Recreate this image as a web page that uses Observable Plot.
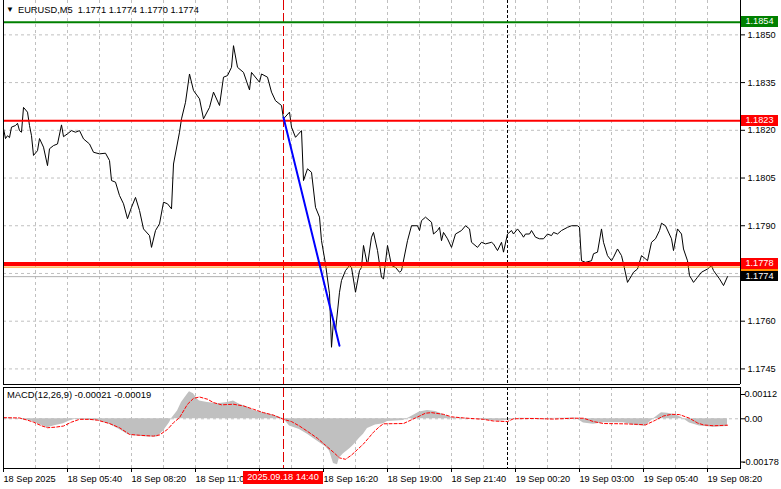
<!DOCTYPE html>
<html><head><meta charset="utf-8">
<script src="https://cdn.jsdelivr.net/npm/d3@7"></script>
<script src="https://cdn.jsdelivr.net/npm/@observablehq/plot@0.6"></script>
<style>
body{margin:0;background:#fff;}
#chart{position:relative;width:781px;height:489px;overflow:hidden;font-family:"Liberation Sans",Arial,sans-serif;font-size:9.2px;color:#000;background:#fff;}
#chart svg{position:absolute;left:0;}
.lbl{position:absolute;white-space:nowrap;line-height:11px;}
.box{position:absolute;color:#fff;text-align:center;white-space:nowrap;}
</style></head><body><div id="chart"></div><script>
// ---- data (bar = 5-minute bar index from 18 Sep 03:00) ----
const symbolTitle = "EURUSD,M5";
const ohlcText = "1.1771 1.1774 1.1770 1.1774";
const macdTitle = "MACD(12,26,9) -0.00021 -0.00019";

const closeSeries = [
[0,1.18205],[1,1.18174],[2,1.18183],[3,1.18177],[4,1.18210],[6,1.18215],[7,1.18222],[8,1.18199],[9,1.18194],[10,1.18272],
[12,1.18257],[13,1.18215],[14,1.18183],[15,1.18121],[17,1.18136],[18,1.18174],[20,1.18147],[22,1.18089],[23,1.18142],[25,1.18152],
[27,1.18157],[29,1.18217],[30,1.18180],[32,1.18189],[34,1.18199],[36,1.18194],[38,1.18199],[40,1.18173],[43,1.18157],[45,1.18131],
[48,1.18126],[51,1.18128],[53,1.18105],[54,1.18042],[56,1.18037],[58,1.17995],[60,1.17969],[62,1.17922],[64,1.17958],[66,1.17989],
[68,1.17948],[70,1.17890],[73,1.17869],[74,1.17832],[76,1.17885],[78,1.17906],[80,1.17974],[82,1.17969],[84,1.17953],[85,1.18094],
[88,1.18194],[89,1.18236],[91,1.18288],[93,1.18377],[95,1.18325],[98,1.18299],[100,1.18236],[103,1.18272],[105,1.18320],[108,1.18278],
[110,1.18367],[112,1.18372],[114,1.18398],[115,1.18466],[117,1.18398],[120,1.18382],[123,1.18327],[124,1.18382],[128,1.18351],[129,1.18377],
[132,1.18367],[134,1.18320],[136,1.18293],[139,1.18278],[140,1.18236],[143,1.18257],[144,1.18210],[146,1.18178],[149,1.18199],[150,1.18042],
[152,1.18079],[154,1.18068],[156,1.17958],[158,1.17927],[159,1.17853],[161,1.17780],[163,1.17686],[164,1.17518],[165,1.17602],[166,1.17570],
[168,1.17691],[169,1.17728],[171,1.17759],[173,1.17775],[174,1.17769],[176,1.17691],[178,1.17759],[179,1.17769],[180,1.17838],[182,1.17775],
[184,1.17864],[185,1.17879],[187,1.17822],[189,1.17738],[190,1.17733],[192,1.17838],[194,1.17775],[196,1.17769],[198,1.17754],[199,1.17759],
[202,1.17853],[204,1.17900],[207,1.17900],[208,1.17885],[209,1.17916],[211,1.17927],[214,1.17911],[215,1.17874],[217,1.17885],[218,1.17895],
[219,1.17853],[220,1.17879],[222,1.17859],[224,1.17832],[226,1.17874],[229,1.17885],[231,1.17900],[233,1.17890],[234,1.17848],[237,1.17832],
[239,1.17848],[241,1.17843],[244,1.17848],[245,1.17843],[247,1.17822],[249,1.17848],[250,1.17817],[252,1.17874],[254,1.17885],[255,1.17874],
[257,1.17890],[259,1.17874],[260,1.17864],[261,1.17874],[263,1.17874],[264,1.17885],[266,1.17864],[268,1.17859],[270,1.17859],[272,1.17874],
[274,1.17869],[275,1.17879],[277,1.17874],[279,1.17885],[282,1.17895],[284,1.17900],[287,1.17900],[288,1.17895],[289,1.17790],[291,1.17785],
[294,1.17790],[295,1.17812],[297,1.17817],[299,1.17890],[300,1.17848],[302,1.17806],[304,1.17790],[305,1.17801],[307,1.17827],[309,1.17806],
[310,1.17780],[312,1.17722],[314,1.17743],[315,1.17754],[317,1.17764],[319,1.17806],[321,1.17796],[322,1.17790],[324,1.17848],[326,1.17859],
[328,1.17885],[329,1.17908],[331,1.17900],[334,1.17859],[335,1.17822],[337,1.17890],[339,1.17874],[340,1.17827],[342,1.17790],[343,1.17743],
[344,1.17733],[345,1.17722],[347,1.17738],[349,1.17754],[352,1.17764],[354,1.17775],[355,1.17759],[358,1.17733],[360,1.17712],[362,1.17740]
];

const trendLine = [[140,1.18240],[168,1.17523]];

const levelPrices = [1.1777, 1.1778, 1.1823, 1.1854];
const levelColors = ["#ff8c00", "#ff0000", "#ff0000", "#008000"];
const levelWidths = [1, 4, 2, 2];
const bidPrice = 1.1774;

const priceTicks = [1.1745, 1.1760, 1.1775, 1.1790, 1.1805, 1.1820, 1.1835, 1.1850];

const macdHist = [
[0,0.00003],[6,0.00001],[10,-0.00003],[14,-0.00008],[17,-0.00018],[20,-0.00026],[22,-0.00032],[26,-0.00024],[30,-0.00018],[33,-0.00008],
[36,-0.00002],[42,-0.00004],[48,-0.00008],[53,-0.00020],[58,-0.00038],[62,-0.00055],[65,-0.00061],[72,-0.00065],[77,-0.00065],[80,-0.00044],
[83,-0.00014],[84,0],[87,0.00028],[89,0.00058],[92,0.00088],[93,0.00097],[95,0.00090],[97,0.00070],[98,0.00064],[102,0.00058],
[107,0.00054],[112,0.00058],[115,0.00064],[118,0.00052],[122,0.00042],[125,0.00030],[130,0.00022],[135,0.00013],[139,0.00004],[140,0],
[143,-0.00026],[148,-0.00038],[152,-0.00055],[157,-0.00080],[161,-0.00100],[163,-0.00115],[165,-0.00160],[167,-0.00165],[168,-0.00140],[170,-0.00125],
[173,-0.00108],[175,-0.00095],[178,-0.00070],[180,-0.00055],[182,-0.00035],[186,-0.00022],[190,-0.00018],[192,-0.00010],[200,-0.00006],[203,0.00005],
[208,0.00024],[212,0.00030],[216,0.00026],[220,0.00015],[224,0.00004],[230,0.00002],[236,0],[242,-0.00006],[248,-0.00009],[252,-0.00005],
[258,0.00002],[270,0.00001],[280,0.00002],[286,0.00003],[290,-0.00015],[295,-0.00020],[300,-0.00014],[310,-0.00014],[316,-0.00024],[321,-0.00026],
[325,0],[329,0.00022],[332,0.00020],[336,0.00014],[339,0.00005],[343,-0.00015],[348,-0.00026],[355,-0.00030],[362,-0.00028]
];

const macdSignal = [
[0,0.00004],[8,0.00003],[12,-0.00005],[15,-0.00012],[19,-0.00025],[22,-0.00032],[26,-0.00030],[30,-0.00026],[34,-0.00012],[38,-0.00002],
[43,-0.00002],[47,-0.00005],[53,-0.00017],[58,-0.00032],[63,-0.00056],[68,-0.00059],[75,-0.00062],[78,-0.00058],[82,-0.00038],[85,-0.00014],
[88,0.00004],[92,0.00052],[95,0.00073],[98,0.00078],[102,0.00070],[105,0.00058],[109,0.00050],[115,0.00052],[120,0.00046],[125,0.00034],
[130,0.00022],[135,0.00013],[140,-0.00002],[144,-0.00010],[148,-0.00026],[152,-0.00045],[157,-0.00070],[161,-0.00095],[165,-0.00120],[168,-0.00140],
[171,-0.00145],[174,-0.00130],[177,-0.00110],[180,-0.00090],[183,-0.00065],[185,-0.00048],[188,-0.00028],[190,-0.00018],[200,-0.00017],[206,0.00003],
[211,0.00020],[214,0.00022],[220,0.00016],[224,0.00007],[230,0.00003],[240,-0.00002],[245,-0.00008],[252,-0.00010],[255,0],[265,0.00001],
[275,-0.00001],[285,0.00002],[290,0.00002],[295,-0.00010],[300,-0.00017],[310,-0.00018],[317,-0.00020],[321,-0.00022],[326,-0.00005],[330,0.00010],
[334,0.00016],[338,0.00015],[343,0.00002],[347,-0.00015],[350,-0.00022],[355,-0.00025],[362,-0.00023]
];

const macdTickValues = [0.00112, 0, -0.00178];
const macdTickLabels = ["0.00112", "0.00", "-0.00178"];

const timeTickBars = [0,32,64,96,128,160,192,224,256,288,320,352];
const timeTickLabels = ["18 Sep 2025","18 Sep 05:40","18 Sep 08:20","18 Sep 11:00","18 Sep 13:40","18 Sep 16:20","18 Sep 19:00","18 Sep 21:40","19 Sep 00:20","19 Sep 03:00","19 Sep 05:40","19 Sep 08:20"];
const gridBars = [16,32,48,64,80,96,112,128,144,160,176,192,208,224,240,256,272,288,304,320,336,352];
const markerBar = 140;
const markerLabel = "2025.09.18 14:40";
const daySeparatorBar = 252;

// ---- derived tables ----
const closes = closeSeries.map(([bar, close]) => ({bar, close}));
const trend = trendLine.map(([bar, price]) => ({bar, price}));
const levels = levelPrices.map((price, i) => ({price, color: levelColors[i], width: levelWidths[i]}));
const hist = macdHist.map(([bar, value]) => ({bar, value}));
const signal = macdSignal.map(([bar, value]) => ({bar, value}));
const timeLabelOf = new Map(timeTickBars.map((b, i) => [b, timeTickLabels[i]]));
const macdLabelOf = new Map(macdTickValues.map((v, i) => [v, macdTickLabels[i]]));

const xDomain = [0, 368.5];
const priceDomain = [1.17401, 1.18608];
const macdDomain = [-0.00178, 0.00112];
const font = "Liberation Sans, Arial, sans-serif";
const gridColor = "#c0c0c0";

const root = document.getElementById("chart");

const mainPlot = Plot.plot({
  width: 781, height: 386,
  marginTop: 0, marginBottom: 2, marginLeft: 3, marginRight: 41,
  x: {domain: xDomain, axis: null},
  y: {domain: priceDomain},
  color: {type: "identity"},
  style: {fontFamily: font, fontSize: "9.2px", background: "none", overflow: "visible", color: "black"},
  marks: [
    Plot.ruleY(priceTicks, {stroke: gridColor, strokeDasharray: "3,3"}),
    Plot.ruleX(gridBars, {stroke: gridColor, strokeDasharray: "3,3"}),
    Plot.ruleY([bidPrice], {stroke: "#b0b0b0"}),
    Plot.ruleX([daySeparatorBar], {stroke: "black", strokeDasharray: "3,2"}),
    Plot.ruleX([markerBar], {stroke: "#e00000", strokeDasharray: "10,3"}),
    Plot.line(closes, {x: "bar", y: "close", stroke: "black", strokeWidth: 1}),
    Plot.ruleY(levels, {y: "price", stroke: "color", strokeWidth: "width"}),
    Plot.line(trend, {x: "bar", y: "price", stroke: "#0000ff", strokeWidth: 2}),
    Plot.ruleX(xDomain, {stroke: "black"}),
    Plot.ruleY([priceDomain[0]], {stroke: "black"}),
    Plot.axisY(priceTicks, {anchor: "right", tickSize: 4, tickPadding: 3, label: null, tickFormat: d => d.toFixed(4)})
  ]
});
mainPlot.style.top = "0px";
root.appendChild(mainPlot);

const macdPlot = Plot.plot({
  width: 781, height: 104,
  marginTop: 2, marginBottom: 21, marginLeft: 3, marginRight: 41,
  x: {domain: xDomain},
  y: {domain: macdDomain},
  style: {fontFamily: font, fontSize: "9.2px", background: "none", overflow: "visible", color: "black"},
  marks: [
    Plot.ruleX(gridBars, {stroke: gridColor, strokeDasharray: "3,3"}),
    Plot.ruleY([0], {stroke: gridColor, strokeDasharray: "3,3"}),
    Plot.areaY(hist, {x: "bar", y: "value", fill: "#c0c0c0"}),
    Plot.ruleX([daySeparatorBar], {stroke: "black", strokeDasharray: "3,2"}),
    Plot.ruleX([markerBar], {stroke: "#e00000", strokeDasharray: "10,3"}),
    Plot.line(signal, {x: "bar", y: "value", stroke: "#ff0000", strokeWidth: 1, strokeDasharray: "3,2"}),
    Plot.frame({stroke: "black"}),
    Plot.axisY([macdTickValues[0]], {anchor: "right", tickSize: 4, tickPadding: 0, dy: 7, label: null, tickFormat: d => macdLabelOf.get(d)}),
    Plot.axisY([macdTickValues[1]], {anchor: "right", tickSize: 4, tickPadding: 0, label: null, tickFormat: d => macdLabelOf.get(d)}),
    Plot.axisY([macdTickValues[2]], {anchor: "right", tickSize: 4, tickPadding: -2, dy: -6.5, label: null, tickFormat: d => macdLabelOf.get(d)}),
    Plot.axisX(timeTickBars, {anchor: "bottom", tickSize: 4, tickPadding: 3, textAnchor: "start", label: null, tickFormat: d => timeLabelOf.get(d)})
  ]
});
macdPlot.style.top = "385px";
root.appendChild(macdPlot);

// ---- text overlays positioned through the plots' scales ----
function addDiv(cls, text, css) {
  const d = document.createElement("div");
  d.className = cls;
  d.textContent = text;
  Object.assign(d.style, css);
  root.appendChild(d);
  return d;
}
function fitWidth(el, target) {
  const w = el.getBoundingClientRect().width;
  if (w > 0) el.style.fontSize = (parseFloat(getComputedStyle(el).fontSize) * target / w) + "px";
}
addDiv("lbl", "\u25BC", {left: "6px", top: "4px", fontSize: "8px"});
const header = addDiv("lbl", symbolTitle + "\u00A0\u00A0" + ohlcText, {left: "18px", top: "4.5px"});
fitWidth(header, 181);
const macdLbl = addDiv("lbl", macdTitle, {left: "7px", top: "390px"});
fitWidth(macdLbl, 144);

const ys = mainPlot.scale("y");
const xs = mainPlot.scale("x");
levels.forEach(l => {
  const cy = ys.apply(l.price);
  addDiv("box", l.price.toFixed(4), {left: "741px", width: "37px", top: (cy - 5.5) + "px", height: "11px", lineHeight: "11px", background: l.color});
});
{
  const cy = ys.apply(bidPrice);
  addDiv("box", bidPrice.toFixed(4), {left: "741px", width: "37px", top: (cy - 5) + "px", height: "10px", lineHeight: "10px", background: "#000"});
}
{
  const cx = xs.apply(markerBar);
  addDiv("box", markerLabel, {left: (cx - 40) + "px", width: "80px", top: "470.5px", height: "13px", lineHeight: "13px", background: "#ff0000"});
}
</script></body></html>
